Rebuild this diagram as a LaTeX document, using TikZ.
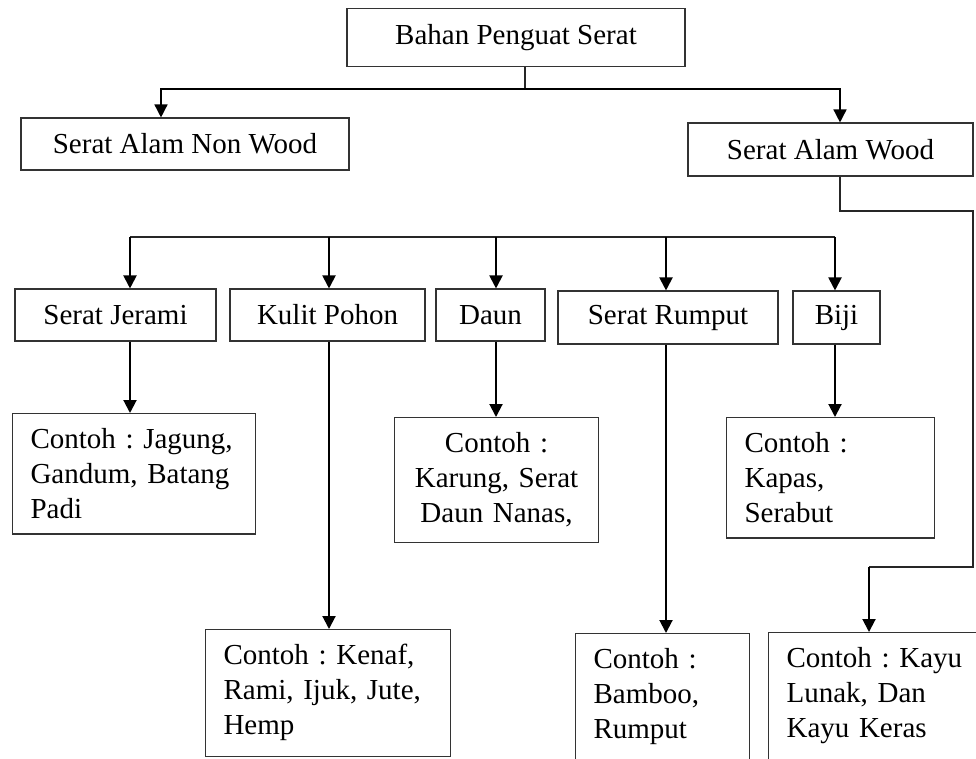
\documentclass[tikz,border=0pt]{standalone}
\usepackage{fontspec}
\setmainfont{Liberation Serif}
\usetikzlibrary{arrows.meta}
\frenchspacing
\hyphenpenalty=10000
\exhyphenpenalty=10000
\begin{document}
\begin{tikzpicture}[x=1pt,y=-1pt,
  box/.style={draw=black!80,line width=1.1pt,inner sep=0pt,font=\fontsize{29}{35}\selectfont},
  mbox/.style={draw=black!80,line width=1.1pt,inner xsep=18pt,inner ysep=15pt,anchor=north west,align=left,font=\fontsize{29}{35}\selectfont},
  conn/.style={line width=1.2pt,black!85},
  arrt/.style={line width=1.5pt,-{Triangle[length=13pt,width=13pt]}},
  arr/.style={line width=2pt,-{Triangle[length=13pt,width=13pt]}}]
\useasboundingbox (0,0) rectangle (976,758);
\clip (0,0) rectangle (976,758);
\fill[white] (0,0) rectangle (976,758);

% level 0 and 1
\node[box,minimum width=338pt,minimum height=58pt] (top) at (516,37.5) {Bahan Penguat Serat};
\node[box,minimum width=328pt,minimum height=52pt] (nonwood) at (185,144) {Serat Alam Non Wood};
\node[box,minimum width=285pt,minimum height=53pt] (wood) at (830.5,149.5) {Serat Alam Wood};

% level 2
\node[box,minimum width=201pt,minimum height=52pt] (jerami) at (115.5,315) {Serat Jerami};
\node[box,minimum width=195pt,minimum height=52pt] (kulit) at (327.5,315) {Kulit Pohon};
\node[box,minimum width=109pt,minimum height=52pt] (daun) at (490.5,315) {Daun};
\node[box,minimum width=220pt,minimum height=53pt] (rumput) at (668,317.5) {Serat Rumput};
\node[box,minimum width=87pt,minimum height=53pt] (biji) at (836.5,317.5) {Biji};

% level 3
\node[mbox,text width=207pt] (cjagung) at (12,413) {Contoh : Jagung,\\Gandum, Batang\\Padi};
\node[mbox,text width=209pt] (ckenaf) at (205,629) {Contoh : Kenaf,\\Rami, Ijuk, Jute,\\Hemp};
\node[mbox,inner xsep=10pt,text width=184pt,align=center] (cdaun) at (394,417) {Contoh :\\Karung, Serat\\Daun Nanas,};
\node[mbox,text width=138pt,text depth=120pt] (cbamboo) at (575,633) {Contoh :\\Bamboo,\\Rumput};
\node[mbox,text width=172pt] (ckapas) at (726,417) {Contoh :\\Kapas,\\Serabut};
\node[mbox,text width=200pt,text depth=120pt] (ckayu) at (768,632) {Contoh : Kayu\\Lunak, Dan\\Kayu Keras};

% connectors from top
\coordinate (j1) at (525,89);
\draw[conn] ([xshift=9pt]top.south) -- (j1);
\draw[arrt] (j1) -| ([xshift=-24pt]nonwood.north);
\draw[arrt] (j1) -| ([xshift=9.5pt]wood.north);

% wood loop
\coordinate (w1) at (973,211);
\coordinate (w2) at (973,567);
\coordinate (w3) at (869,567);
\draw[conn] ([xshift=9.5pt]wood.south) |- (w1) -- (w2) -- (w3);
\draw[arr] (w3) -- (w3 |- ckayu.north);

% level-2 bar
\coordinate (b1) at (130,237);
\coordinate (b2) at (329,237);
\coordinate (b3) at (496,237);
\coordinate (b4) at (666,237);
\coordinate (b5) at (835,237);
\draw[conn] (b1) -- (b5);
\draw[arr] (b1) -- (b1 |- jerami.north);
\draw[arr] (b2) -- (b2 |- kulit.north);
\draw[arr] (b3) -- (b3 |- daun.north);
\draw[arr] (b4) -- (b4 |- rumput.north);
\draw[arr] (b5) -- (b5 |- biji.north);

% level 2 to 3
\draw[arr] (jerami.south -| b1) -- (cjagung.north -| b1);
\draw[arr] (kulit.south -| b2) -- (ckenaf.north -| b2);
\draw[arr] (daun.south -| b3) -- (cdaun.north -| b3);
\draw[arr] (rumput.south -| b4) -- (cbamboo.north -| b4);
\draw[arr] (biji.south -| b5) -- (ckapas.north -| b5);
\end{tikzpicture}
\end{document}
